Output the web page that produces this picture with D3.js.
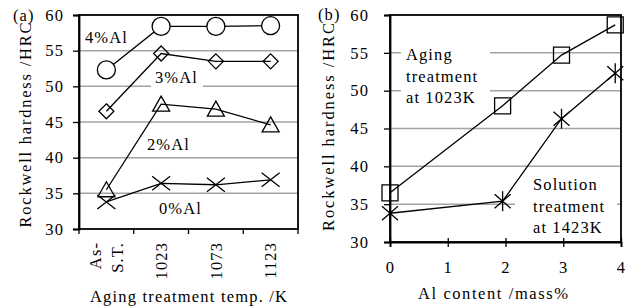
<!DOCTYPE html>
<html>
<head>
<meta charset="utf-8">
<script src="https://cdn.jsdelivr.net/npm/d3@7"></script>
<style>
  body { margin: 0; background: #fff; }
  text { font-family: "Liberation Serif", "DejaVu Serif", serif; }
</style>
</head>
<body>
<div id="chart"></div>
<script>
// panel (a): hardness vs aging temperature
var tempLabels = ["As-S.T.", "1023", "1073", "1123"];
var al4 = [52.3, 58.4, 58.4, 58.5];
var al3 = [46.5, 54.6, 53.5, 53.5];
var al2 = [35.5, 47.5, 46.8, 44.6];
var al0 = [33.8, 36.4, 36.2, 36.9];
var seriesA = [
  { name: "4%Al", values: al4, marker: "circle" },
  { name: "3%Al", values: al3, marker: "diamond" },
  { name: "2%Al", values: al2, marker: "triangle" },
  { name: "0%Al", values: al0, marker: "x" }
];

// panel (b): hardness vs Al content
var alContent = [0, 1.95, 2.97, 3.9];
var aged1023 = [36.5, 48.0, 54.7, 58.7];
var solution1423 = [33.8, 35.4, 46.3, 52.3];
var yTicks = [30, 35, 40, 45, 50, 55, 60];
var xTicksB = [0, 1, 2, 3, 4];

var W = 637, H = 308;
var FONT = "Liberation Serif, DejaVu Serif, serif";
var svg = d3.select("#chart").append("svg").attr("width", W).attr("height", H)
  .attr("font-family", FONT).style("display", "block");

var gridColor = "#a3a3a3";
var fs = 16.5, ls = "1.1px";

function marker(g, type, x, y) {
  var p = d3.path();
  if (type == "circle") {
    g.append("circle").attr("cx", x).attr("cy", y).attr("r", 9)
      .attr("fill", "#fff").attr("stroke", "#000").attr("stroke-width", 1.3);
    return;
  }
  if (type == "diamond") {
    p.moveTo(x, y - 7.5); p.lineTo(x + 7.5, y); p.lineTo(x, y + 7.5); p.lineTo(x - 7.5, y); p.closePath();
  } else if (type == "triangle") {
    p.moveTo(x, y - 8); p.lineTo(x + 8.5, y + 7); p.lineTo(x - 8.5, y + 7); p.closePath();
  } else if (type == "square") {
    p.rect(x - 8, y - 8, 16, 16);
  } else if (type == "x") {
    p.moveTo(x - 9, y - 7); p.lineTo(x + 9, y + 7); p.moveTo(x - 9, y + 7); p.lineTo(x + 9, y - 7);
  } else if (type == "star") {
    p.moveTo(x - 8, y - 7); p.lineTo(x + 8, y + 7); p.moveTo(x - 8, y + 7); p.lineTo(x + 8, y - 7);
    p.moveTo(x, y - 10); p.lineTo(x, y + 10);
  }
  g.append("path").attr("d", p.toString()).attr("fill", "none")
    .attr("stroke", "#000").attr("stroke-width", 1.3);
}

function label(g, lines, x, y0, lh, box) {
  if (box) {
    g.append("rect").attr("x", box[0]).attr("y", box[1]).attr("width", box[2]).attr("height", box[3]).attr("fill", "#fff");
  }
  lines.forEach(function (t, i) {
    g.append("text").attr("x", x).attr("y", y0 + i * lh)
      .attr("font-size", fs).attr("letter-spacing", ls).text(t);
  });
}

function styleAxis(ax) {
  ax.attr("font-family", FONT).attr("font-size", fs);
  ax.select(".domain").attr("stroke-width", 1.8);
  ax.selectAll("text").attr("fill", "#000").attr("letter-spacing", ls);
  ax.selectAll("line").attr("stroke-width", 1.3);
}

// ---------- panel (a) ----------
var A = { l: 79, r: 298, t: 15, b: 229 };
var xa = d3.scaleBand().domain(tempLabels).range([A.l, A.r]).padding(0);
var ya = d3.scaleLinear().domain([30, 60]).range([A.b, A.t]);
var ga = svg.append("g");

ga.selectAll(".grid").data(yTicks.slice(1, -1)).enter().append("line")
  .attr("x1", A.l).attr("x2", A.r)
  .attr("y1", function (d) { return ya(d); }).attr("y2", function (d) { return ya(d); })
  .attr("stroke", gridColor).attr("stroke-width", 1.5);

// labels with white boxes go under the data
label(ga, ["4%Al"], 85, 43, 0, null);
label(ga, ["3%Al"], 155, 83, 0, [151, 70, 52, 18]);
label(ga, ["2%Al"], 147, 150, 0, null);
label(ga, ["0%Al"], 159, 214, 0, null);

var lineA = d3.line().x(function (d, i) { return xa(tempLabels[i]) + xa.bandwidth() / 2; })
  .y(function (d) { return ya(d); });
seriesA.forEach(function (s) {
  ga.append("path").attr("d", lineA(s.values)).attr("fill", "none")
    .attr("stroke", "#000").attr("stroke-width", 1.3);
});
seriesA.forEach(function (s) {
  s.values.forEach(function (v, i) {
    marker(ga, s.marker, xa(tempLabels[i]) + xa.bandwidth() / 2, ya(v));
  });
});

// frame
ga.append("rect").attr("x", A.l).attr("y", A.t).attr("width", A.r - A.l).attr("height", A.b - A.t)
  .attr("fill", "none").attr("stroke", "#000").attr("stroke-width", 1.8);

var yAxisA = ga.append("g").attr("transform", "translate(" + A.l + ",0)")
  .call(d3.axisLeft(ya).tickValues(yTicks).tickSize(6).tickPadding(9));
styleAxis(yAxisA);

// x ticks at band edges
var edges = tempLabels.map(function (c) { return xa(c); }).concat([A.r]);
ga.selectAll(".xt").data(edges).enter().append("line")
  .attr("x1", function (d) { return d; }).attr("x2", function (d) { return d; })
  .attr("y1", A.b).attr("y2", A.b + 5).attr("stroke", "#000").attr("stroke-width", 1.3);

tempLabels.forEach(function (c) {
  var cx = xa(c) + xa.bandwidth() / 2;
  var t = ga.append("text").attr("transform", "translate(" + cx + ",242) rotate(-90)")
    .attr("text-anchor", "end").attr("font-size", fs).attr("letter-spacing", ls);
  if (c == "As-S.T.") {
    t.append("tspan").attr("x", 0).attr("dy", "-0.35em").text("As-");
    t.append("tspan").attr("x", 0).attr("dy", "1.35em").text("S.T.");
  } else {
    t.attr("dy", "0.35em").text(c);
  }
});

ga.append("text").attr("x", 13).attr("y", 21).attr("font-size", fs).attr("letter-spacing", ls).text("(a)");
ga.append("text").attr("transform", "translate(31,125) rotate(-90)").attr("text-anchor", "middle")
  .attr("font-size", fs).attr("textLength", 205).attr("lengthAdjust", "spacing")
  .text("Rockwell hardness /HRC");
ga.append("text").attr("x", 90).attr("y", 302).attr("font-size", fs)
  .attr("textLength", 197).attr("lengthAdjust", "spacing").text("Aging treatment temp. /K");

// ---------- panel (b) ----------
var B = { l: 390, r: 621, t: 15, b: 242 };
var xb = d3.scaleLinear().domain([0, 4]).range([B.l, B.r]);
var yb = d3.scaleLinear().domain([30, 60]).range([B.b, B.t]);
var gb = svg.append("g");

gb.selectAll(".grid").data(yTicks.slice(1, -1)).enter().append("line")
  .attr("x1", B.l).attr("x2", B.r)
  .attr("y1", function (d) { return yb(d); }).attr("y2", function (d) { return yb(d); })
  .attr("stroke", gridColor).attr("stroke-width", 1.5);

label(gb, ["Aging", "treatment", "at 1023K"], 406, 60, 21.5, [401, 42, 89, 64]);
label(gb, ["Solution", "treatment", "at 1423K"], 533, 190, 21.5, [515, 174, 102, 64]);

var lineB = d3.line().x(function (d, i) { return xb(alContent[i]); }).y(function (d) { return yb(d); });
[aged1023, solution1423].forEach(function (s) {
  gb.append("path").attr("d", lineB(s)).attr("fill", "none")
    .attr("stroke", "#000").attr("stroke-width", 1.3);
});
aged1023.forEach(function (v, i) { marker(gb, "square", xb(alContent[i]), yb(v)); });
solution1423.forEach(function (v, i) { marker(gb, "star", xb(alContent[i]), yb(v)); });

gb.append("rect").attr("x", B.l).attr("y", B.t).attr("width", B.r - B.l).attr("height", B.b - B.t)
  .attr("fill", "none").attr("stroke", "#000").attr("stroke-width", 1.8);

var yAxisB = gb.append("g").attr("transform", "translate(" + B.l + ",0)")
  .call(d3.axisLeft(yb).tickValues(yTicks).tickSize(6).tickPadding(15));
styleAxis(yAxisB);

var xAxisB = gb.append("g").attr("transform", "translate(0," + B.b + ")")
  .call(d3.axisBottom(xb).tickValues(xTicksB).tickFormat(d3.format("d")).tickSize(5).tickPadding(14));
styleAxis(xAxisB);
xAxisB.selectAll("line").attr("y1", -4);

gb.append("text").attr("x", 318).attr("y", 20).attr("font-size", fs).attr("letter-spacing", ls).text("(b)");
gb.append("text").attr("transform", "translate(334,127) rotate(-90)").attr("text-anchor", "middle")
  .attr("font-size", fs).attr("textLength", 208).attr("lengthAdjust", "spacing")
  .text("Rockwell hardness /HRC");
gb.append("text").attr("x", 418).attr("y", 299).attr("font-size", fs)
  .attr("textLength", 150).attr("lengthAdjust", "spacing").text("Al content /mass%");
</script>
</body>
</html>
